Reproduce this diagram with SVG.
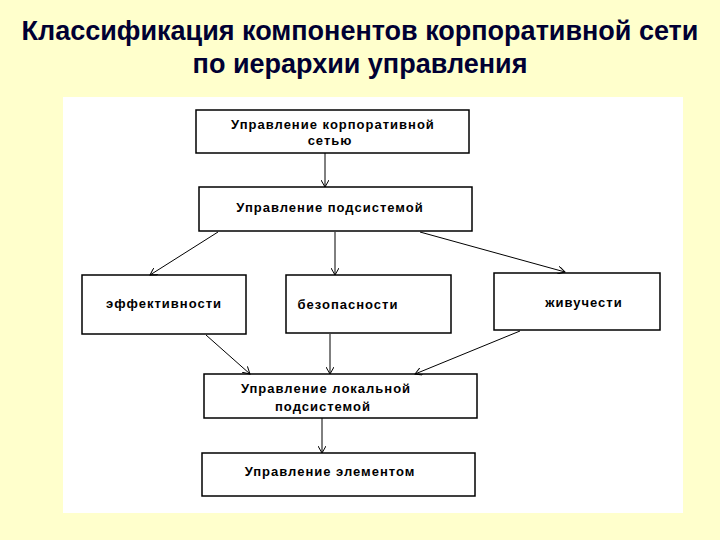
<svg xmlns="http://www.w3.org/2000/svg" width="720" height="540" viewBox="0 0 720 540">
<defs>
<marker id="ah" markerWidth="8" markerHeight="8" refX="7" refY="4" orient="auto" markerUnits="userSpaceOnUse"><path d="M0,0 L7,4 L0,8" fill="none" stroke="#000" stroke-width="1"/></marker>
<style>
.b{fill:#fff;stroke:#000;stroke-width:1.5}
.t{font-family:"Liberation Sans",Arial,sans-serif;font-weight:bold;font-size:13px;letter-spacing:1px;fill:#000;text-anchor:middle}
.c line{stroke:#000;stroke-width:1;marker-end:url(#ah)}
.h{font-family:"Liberation Sans",Arial,sans-serif;font-weight:bold;font-size:27px;fill:#000033;text-anchor:middle}
</style>
</defs>
<rect width="720" height="540" fill="#FFFFCC"/>
<text class="h" x="360" y="40">Классификация компонентов корпоративной сети</text>
<text class="h" x="360" y="73">по иерархии управления</text>
<rect x="63" y="97" width="620" height="416" fill="#fff"/>
<g id="n1"><rect class="b" x="196" y="110" width="273" height="43"/><text class="t" x="333" y="129">Управление корпоративной</text><text class="t" x="330" y="145">сетью</text></g>
<g id="n2"><rect class="b" x="199" y="187" width="273" height="44"/><text class="t" x="330" y="212">Управление  подсистемой</text></g>
<g id="n3"><rect class="b" x="82" y="275" width="164" height="59"/><text class="t" x="164" y="308">эффективности</text></g>
<g id="n4"><rect class="b" x="286" y="275" width="165" height="58"/><text class="t" x="348" y="309">безопасности</text></g>
<g id="n5"><rect class="b" x="494" y="273" width="166" height="57"/><text class="t" x="584" y="307">живучести</text></g>
<g id="n6"><rect class="b" x="204" y="374" width="273" height="44"/><text class="t" x="326" y="393">Управление локальной</text><text class="t" x="323" y="411">подсистемой</text></g>
<g id="n7"><rect class="b" x="202" y="453" width="273" height="43"/><text class="t" x="330" y="476">Управление  элементом</text></g>
<g id="connectors" class="c">
<line x1="325" y1="153" x2="325" y2="187"/>
<line x1="218" y1="232" x2="150" y2="275"/>
<line x1="335" y1="232" x2="335" y2="275"/>
<line x1="420" y1="232" x2="565" y2="272"/>
<line x1="206" y1="335" x2="250" y2="374"/>
<line x1="330" y1="334" x2="330" y2="374"/>
<line x1="520" y1="331" x2="415" y2="374"/>
<line x1="322" y1="418" x2="322" y2="453"/>
</g>
</svg>
